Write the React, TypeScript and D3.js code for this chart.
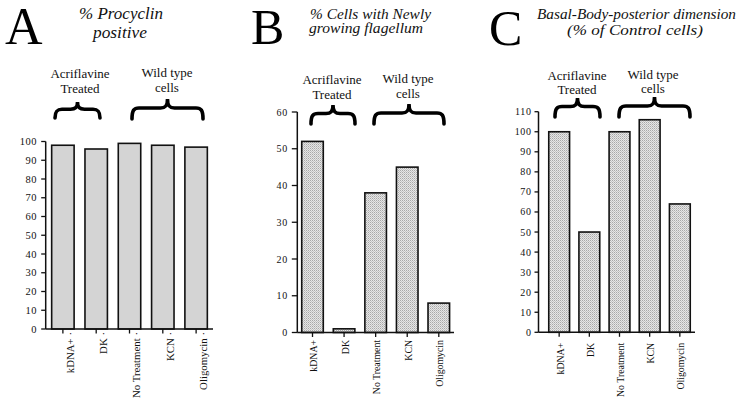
import React from "react";
import * as d3 from "d3";

const categories = ["kDNA+", "DK", "No Treatment", "KCN", "Oligomycin"];
const procyclinValues = [98, 96, 99, 98, 97];
const flagellumValues = [52, 1, 38, 45, 8];
const basalBodyValues = [100, 50, 100, 106, 64];
const ticksA = d3.range(0, 101, 10);
const ticksB = d3.range(0, 61, 10);
const ticksC = d3.range(0, 111, 10);
const groupLabels = [["Acriflavine", "Treated"], ["Wild type", "cells"]];

const FONT = "Liberation Serif, Times New Roman, Times, serif";

function bracePath(x0: number, x1: number, yTop: number, yBot: number) {
  const xm = (x0 + x1) / 2;
  const yMid = yTop + (yBot - yTop) * 0.45;
  const r = 7;
  const p = d3.path();
  p.moveTo(x0, yBot);
  p.bezierCurveTo(x0, yMid + 2, x0 + 2, yMid, x0 + r, yMid);
  p.lineTo(xm - r, yMid);
  p.bezierCurveTo(xm - 2, yMid, xm, yMid - 2, xm, yTop);
  p.bezierCurveTo(xm, yMid - 2, xm + 2, yMid, xm + r, yMid);
  p.lineTo(x1 - r, yMid);
  p.bezierCurveTo(x1 - 2, yMid, x1, yMid + 2, x1, yBot);
  return p.toString();
}

type PanelProps = {
  values: number[];
  ticks: number[];
  yDomainMax: number;
  yRange: [number, number];
  axisX: number;
  axisEnd: number;
  bandRange: [number, number];
  padInner: number;
  padOuter: number;
  fill: string;
  labelDx: number;
  labelDy: number;
  labelFont: number;
  labelSuffix: string;
  tickFont: number;
  tickLen: number;
  tickGap: number;
};

function Panel(props: PanelProps) {
  const {
    values, ticks, yDomainMax, yRange, axisX, axisEnd, bandRange,
    padInner, padOuter, fill, labelDx, labelDy, labelFont, labelSuffix,
    tickFont, tickLen, tickGap,
  } = props;
  const y = d3.scaleLinear().domain([0, yDomainMax]).range(yRange);
  const x = d3
    .scaleBand<string>()
    .domain(categories)
    .range(bandRange)
    .paddingInner(padInner)
    .paddingOuter(padOuter);
  const y0 = y(0);
  return (
    <g>
      {categories.map((c, i) => (
        <rect
          key={c}
          x={x(c)!}
          y={y(values[i])}
          width={x.bandwidth()}
          height={y0 - y(values[i])}
          fill={fill}
          stroke="#111"
          strokeWidth={1.6}
        />
      ))}
      <line x1={axisX} x2={axisX} y1={y(yDomainMax)} y2={y0} stroke="#111" strokeWidth={1.5} />
      <line x1={axisX} x2={axisEnd} y1={y0} y2={y0} stroke="#111" strokeWidth={1.5} />
      {ticks.map((t) => (
        <g key={t}>
          <line x1={axisX - tickLen} x2={axisX} y1={y(t)} y2={y(t)} stroke="#111" strokeWidth={1.3} />
          <text
            x={axisX - tickLen - tickGap}
            y={y(t)}
            dy="0.35em"
            textAnchor="end"
            style={{ fontFamily: FONT, fontSize: tickFont, letterSpacing: 0.6 }}
            fill="#111"
          >
            {t}
          </text>
        </g>
      ))}
      {categories.map((c) => {
        const cx = x(c)! + x.bandwidth() / 2;
        return (
          <g key={c}>
            <line x1={cx} x2={cx} y1={y0} y2={y0 + 4.5} stroke="#111" strokeWidth={1.3} />
            <text
              transform={`translate(${cx + labelDx},${y0 + labelDy}) rotate(-90)`}
              textAnchor="end"
              dy="0.35em"
              style={{ fontFamily: FONT, fontSize: labelFont }}
              fill="#111"
            >
              {c + labelSuffix}
            </text>
          </g>
        );
      })}
    </g>
  );
}

function GroupLabels({ centers, baselines, braces }: {
  centers: [number, number];
  baselines: [number, number];
  braces: [number, number, number, number][];
}) {
  return (
    <g>
      {groupLabels.map((lines, gi) => (
        <g key={gi}>
          {lines.map((l, li) => (
            <text
              key={l}
              x={centers[gi]}
              y={baselines[li] - (gi === 1 ? 1 : 0)}
              textAnchor="middle"
              style={{ fontFamily: FONT, fontSize: 13 }}
              fill="#111"
            >
              {l}
            </text>
          ))}
        </g>
      ))}
      {braces.map((b, i) => (
        <path
          key={i}
          d={bracePath(b[0], b[1], b[2], b[3])}
          fill="none"
          stroke="#000"
          strokeWidth={3.6}
          strokeLinecap="round"
        />
      ))}
    </g>
  );
}

export default function App() {
  const title = { fontFamily: FONT, fontStyle: "italic" as const };
  return (
    <svg
      width={740}
      height={402}
      style={{ position: "absolute", left: 0, top: 0, background: "#fff", fontFamily: FONT }}
    >
      <defs>
        <pattern id="stipple" width={2} height={2} patternUnits="userSpaceOnUse">
          <rect width={2} height={2} fill="#e6e6e6" />
          <rect width={1} height={1} fill="#a8a8a8" />
          <rect x={1} y={1} width={1} height={1} fill="#c4c4c4" />
        </pattern>
      </defs>
      <rect width={740} height={402} fill="#fff" />

      {/* Panel letters */}
      <text x={5} y={44} style={{ fontFamily: FONT, fontSize: 52 }} fill="#000">A</text>
      <text x={251} y={44} style={{ fontFamily: FONT, fontSize: 50 }} fill="#000">B</text>
      <text x={489} y={45} style={{ fontFamily: FONT, fontSize: 50 }} fill="#000">C</text>

      {/* Titles */}
      <g fill="#111">
        <text x={79} y={19} textLength={84} lengthAdjust="spacingAndGlyphs" style={{ ...title, fontSize: 16.5 }}>% Procyclin</text>
        <text x={93} y={38} textLength={54} lengthAdjust="spacingAndGlyphs" style={{ ...title, fontSize: 16.5 }}>positive</text>
        <text x={310} y={19} textLength={121} lengthAdjust="spacingAndGlyphs" style={{ ...title, fontSize: 15 }}>% Cells with Newly</text>
        <text x={309} y={33} textLength={114} lengthAdjust="spacingAndGlyphs" style={{ ...title, fontSize: 15 }}>growing flagellum</text>
        <text x={537} y={19} textLength={199} lengthAdjust="spacingAndGlyphs" style={{ ...title, fontSize: 15 }}>Basal-Body-posterior dimension</text>
        <text x={567} y={35} textLength={136} lengthAdjust="spacingAndGlyphs" style={{ ...title, fontSize: 15 }}>(% of Control cells)</text>
      </g>

      <GroupLabels
        centers={[80, 167]}
        baselines={[78, 93]}
        braces={[[55, 100, 102, 118], [132, 203, 99, 119]]}
      />
      <GroupLabels
        centers={[332, 408]}
        baselines={[84, 99]}
        braces={[[311, 355, 105, 124], [374, 444, 104, 124]]}
      />
      <GroupLabels
        centers={[577, 653]}
        baselines={[80, 94]}
        braces={[[555, 600, 98, 117], [619, 690, 97, 117]]}
      />

      <Panel
        values={procyclinValues}
        ticks={ticksA}
        yDomainMax={100}
        yRange={[329, 141.5]}
        axisX={45.7}
        axisEnd={213}
        bandRange={[46, 213]}
        padInner={0.326}
        padOuter={0.17}
        fill="#d4d4d4"
        labelDx={7}
        labelDy={3}
        labelFont={10.8}
        labelSuffix=" ·"
        tickFont={10.5}
        tickLen={4.5}
        tickGap={4}
      />
      <Panel
        values={flagellumValues}
        ticks={ticksB}
        yDomainMax={60}
        yRange={[332.5, 112]}
        axisX={297.3}
        axisEnd={454}
        bandRange={[297.3, 454]}
        padInner={0.317}
        padOuter={0.14}
        fill="url(#stipple)"
        labelDx={1}
        labelDy={7.5}
        labelFont={9.8}
        labelSuffix=""
        tickFont={10}
        tickLen={5.5}
        tickGap={4}
      />
      <Panel
        values={basalBodyValues}
        ticks={ticksC}
        yDomainMax={110}
        yRange={[332.3, 111.7]}
        axisX={538.5}
        axisEnd={695}
        bandRange={[538.5, 700.5]}
        padInner={0.31}
        padOuter={0.34}
        fill="url(#stipple)"
        labelDx={1}
        labelDy={10.5}
        labelFont={9.8}
        labelSuffix=""
        tickFont={10}
        tickLen={4}
        tickGap={3}
      />
    </svg>
  );
}
